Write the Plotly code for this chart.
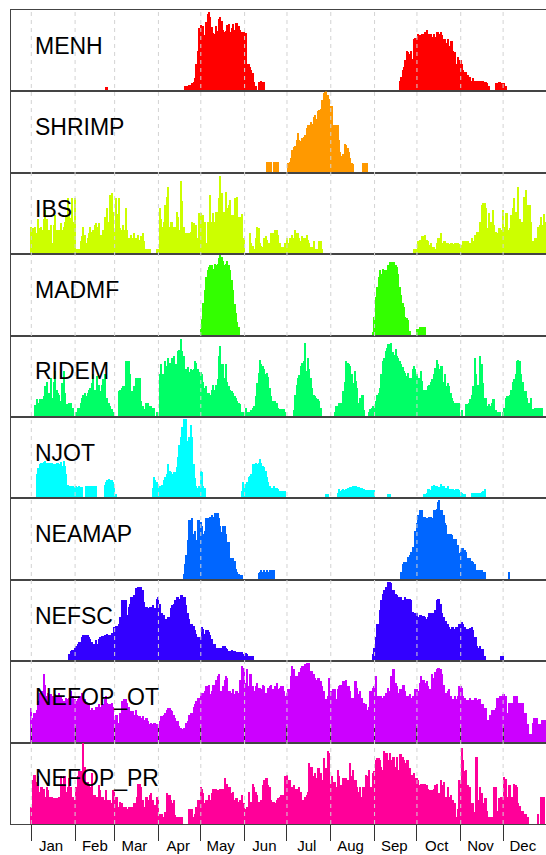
import plotly.graph_objects as go

# ---------------- data ----------------
names = ["MENH", "SHRIMP", "IBS", "MADMF", "RIDEM", "NJOT",
         "NEAMAP", "NEFSC", "NEFOP_OT", "NEFOP_PR"]
colors = ["#FF0000", "#FF9900", "#CCFF00", "#33FF00", "#00FF66",
          "#00FFFF", "#0066FF", "#3300FF", "#CC00FF", "#FF0099"]
month_labels = ["Jan", "Feb", "Mar", "Apr", "May", "Jun",
                "Jul", "Aug", "Sep", "Oct", "Nov", "Dec"]
month_start_days = [1, 32, 60, 91, 121, 152, 182, 213, 244, 274, 305, 335]
month_label_days = [15, 46, 74, 105, 135, 166, 196, 227, 258, 288, 319, 349]

# each series: list of (first day of year, daily relative counts 0-100)
menh = [
    (54, [5, 5]),
    (110, [7, 7, 7, 8, 8, 10, 11, 17, 34, 50, 78,
           81, 80, 80, 69, 85, 95, 97, 91, 79, 72, 71, 80, 74, 89, 91, 87, 76, 73, 74, 81,
           83, 73, 78, 83, 76, 84, 84, 80, 76, 73, 72, 73, 72,
           34, 34, 30, 26, 22, 12, 7, 0, 12, 12, 13, 12, 12]),
    (262, [13, 18, 26, 30, 38, 50, 48, 46, 50, 40, 64, 66, 66, 71, 69, 60, 71, 71, 73, 75,
           67, 71, 71, 67, 71, 67, 73, 73, 71, 73, 69, 64, 64, 60, 64, 56, 62, 62, 50, 48,
           34, 42, 38, 38, 34, 26, 24, 24, 20, 16, 18, 13, 16, 13, 13, 13, 13, 13, 13, 13,
           12, 11, 10, 7, 0, 0, 0, 0, 10, 10, 11, 11, 10, 10, 10, 7]),
]
shrimp = [
    (168, [13, 13, 13, 13, 0, 13, 13, 13, 13]),
    (183, [11, 13, 18, 27, 31, 32, 40, 48, 40, 38, 42, 44, 46, 54, 58, 58, 62, 60, 68, 70,
           66, 75, 77, 78, 89, 97, 99, 100, 95, 90, 81, 81, 58, 58, 58, 58, 40, 25, 20, 23,
           35, 34, 30, 25, 18, 12, 10]),
    (236, [12, 12, 12, 12]),
]
ibs = [
    (1, [34, 32, 30, 34, 26, 44, 32, 34, 30, 44, 55, 44, 24, 30, 36, 14, 36, 49, 30, 28,
         30, 38, 30, 34, 40, 49, 69, 57, 45, 69, 40, 69, 7, 7, 7, 16, 22, 34, 24, 14,
         20, 26, 34, 28, 30, 36, 38, 34, 38, 24, 24, 30, 46, 34, 57, 40, 73, 75, 52, 28,
         69, 50, 69, 32, 30, 36, 30, 57, 30, 20, 18, 24, 20, 26, 20, 16, 24, 18, 22, 26,
         16, 7, 7, 7, 7]),
    (90, [7, 7, 57, 44, 34, 40, 61, 71, 83, 34, 40, 40, 34, 34, 52, 46, 30, 90, 65, 34,
          26, 26, 26, 26, 28, 40, 38, 36, 36, 20, 51, 51, 49, 49, 40, 14, 40, 40, 73, 40,
          51, 40, 52, 52, 69, 96, 75, 52, 52, 77, 57, 61, 67, 48, 48, 69, 52, 71, 46, 46,
          50, 20, 20]),
    (156, [26, 14, 10, 7, 20, 34, 32, 14, 10, 9, 20, 22, 18, 14, 14, 26, 26, 24, 30, 30,
           24, 14, 9, 9, 9, 14, 20, 14, 20, 20, 24, 20, 30, 26, 26, 20, 16, 22, 20, 20,
           24, 18, 14, 9, 9, 16, 7, 7, 7, 16, 16, 7]),
    (272, [7, 7, 7, 16, 18, 14, 22, 22, 24, 18, 16, 12, 14, 9, 9, 7, 14, 20, 20, 26,
           14, 16, 16, 14, 14, 13, 14, 14, 13, 14, 14, 14, 13, 12, 12, 16, 16, 16, 16, 14,
           14, 20, 16, 24, 24, 28, 28, 40, 61, 63, 63, 57, 32, 51, 40, 40, 55, 36, 28, 26,
           32, 32, 30, 55, 34, 51, 51, 30, 32, 48, 57, 69, 52, 52, 83, 44, 40, 40, 71, 79,
           40, 61, 61, 40, 16, 7, 20, 20, 34, 36, 46, 36, 50, 40]),
]
madmf = [
    (121, [8, 20, 40, 56, 72, 80, 84, 86, 86, 82, 88, 86, 88, 95, 99, 96, 92, 86, 88, 92,
           86, 80, 68, 56, 39, 28, 16, 10]),
    (243, [4, 23, 47, 60, 72, 80, 76, 82, 80, 80, 80, 86, 90, 90, 90, 90, 86, 84, 76, 60,
           50, 40, 35, 23, 21, 19, 6]),
    (274, [8, 8, 10, 10, 10, 10, 10]),
]
ridem = [
    (4, [15, 22, 18, 22, 22, 22, 26, 38, 44, 30, 30, 49, 24, 44, 57, 34, 30, 28, 20, 42,
         57, 30, 16, 16, 18, 18, 12, 12]),
    (33, [7, 12, 12, 18, 24, 28, 30, 26, 30, 34, 36, 42, 53, 34, 34, 51, 40, 32, 40, 47,
          53, 24, 24, 18, 14, 10, 7]),
    (63, [32, 34, 36, 38, 38, 69, 69, 69, 53, 32, 32, 38, 49, 30, 49, 49, 20, 14, 10, 18,
          18, 18, 14, 14, 12, 12]),
    (90, [7, 7, 53, 65, 53, 53, 69, 63, 73, 67, 67, 73, 75, 65, 65, 81, 83, 96, 81, 75,
          60, 60, 62, 56, 60, 58, 60, 69, 67, 60, 56, 56, 53, 44, 36, 38, 30, 30, 28, 34,
          40, 34, 40, 47, 75, 88, 65, 65, 49, 65, 44, 38, 34, 32, 30, 26, 24, 20, 18, 16,
          7, 7, 7]),
    (153, [11, 7, 7, 7, 9, 12, 14, 26, 42, 55, 71, 65, 63, 59, 53, 55, 50, 36, 26, 20,
           20, 20, 18, 12, 10, 10, 10, 10, 7]),
    (187, [9, 28, 40, 48, 52, 63, 67, 69, 92, 57, 73, 60, 48, 36, 28, 26, 24, 22, 20, 12]),
    (216, [7, 14, 14, 18, 18, 18, 32, 44, 69, 67, 65, 63, 53, 42, 57, 45, 36, 18, 24, 28,
           28, 9]),
    (240, [7, 10, 12, 14, 12, 20, 28, 30, 36, 53, 69, 73, 81, 85, 90, 90, 92, 80, 77, 84,
           75, 73, 69, 65, 62, 57, 55, 51, 55, 49, 49, 59, 63, 60, 53, 49, 49, 57, 45, 34,
           34, 34, 38, 40, 44, 47, 53, 61, 71, 65, 59, 63, 63, 44, 53, 38, 42, 38, 30, 24,
           20, 18, 18, 18, 18]),
    (306, [9]),
    (309, [16, 16, 18, 22, 28, 38, 73, 53, 40, 40, 75, 65, 42, 24, 24, 14, 16, 14, 18, 22,
           22, 9, 7, 7, 7]),
    (335, [7, 11, 24, 26, 26, 28, 34, 44, 47, 53, 69, 71, 69, 53, 44, 32, 32, 24, 18, 18,
           24, 10]),
    (358, [12, 12, 12, 12, 12, 12]),
]
njot = [
    (5, [30, 37, 42, 44, 44, 45, 46, 44, 42, 44, 43, 44, 42, 42, 43, 44, 42, 45, 40, 46,
         40, 30, 17, 15, 15, 15, 15, 14, 15, 14, 15, 14, 14]),
    (40, [15, 15, 15, 15, 15, 15, 15, 15]),
    (53, [17, 20, 22, 24, 22, 22, 20, 13, 5]),
    (87, [13, 26, 22, 20, 18, 15, 13, 17, 22, 26, 30, 42, 34, 32, 30, 32, 32, 38, 51, 65,
          76, 88, 98, 84, 97, 71, 75, 90, 76, 42, 25, 15, 13, 15, 34, 32, 15, 13]),
    (150, [9, 20, 13, 18, 20, 26, 28, 30, 42, 42, 44, 42, 44, 49, 44, 40, 38, 34, 26, 20,
           15, 13, 13, 15, 13, 13, 12, 9, 9, 9, 9, 9]),
    (210, [6, 6]),
    (218, [7, 11, 9, 10, 11, 10, 11, 13, 13, 14, 14, 15, 15, 15, 14, 14, 13, 13, 11, 11,
           10, 10, 10, 10, 10, 10, 10]),
    (254, [5, 5]),
    (279, [5, 6, 7, 11, 11, 10, 15, 17, 15, 15, 13, 14, 18, 15, 15, 13, 13, 15, 12, 12,
           10, 11, 10, 12, 12, 10, 8, 7, 6, 6]),
    (313, [7, 7, 7, 7, 7, 7, 7, 8, 9, 11]),
]
neamap = [
    (109, [7, 19, 30, 48, 73, 73, 75, 56, 60, 48, 73, 73, 71, 65, 56, 60, 75, 75, 69, 77,
           79, 77, 81, 81, 82, 75, 65, 58, 65, 65, 56, 46, 46, 26, 26, 26, 23, 13, 9, 7,
           6, 6]),
    (162, [8, 9, 11, 9, 11, 9, 11, 9, 11, 11, 11, 11]),
    (263, [9, 19, 21, 21, 21, 28, 30, 34, 40, 40, 60, 69, 79, 85, 85, 85, 77, 77, 75, 75,
           77, 77, 75, 85, 85, 87, 95, 98, 85, 85, 79, 69, 67, 56, 56, 56, 54, 50, 50, 50,
           42, 32, 36, 38, 38, 36, 34, 26, 26, 26, 23, 21, 19, 11, 11, 11, 11, 11, 9, 9]),
    (339, [9]),
]
nefsc = [
    (28, [9, 13, 14, 14, 17, 19, 21, 24, 24, 30,
          32, 33, 32, 32, 30, 28, 24, 21, 21, 26, 21, 28,
          30, 31, 31, 32, 33, 34, 33, 33, 35, 34, 42, 44, 44,
          46, 55, 75, 69, 75, 75, 57, 67, 71, 79, 79, 81,
          90, 90, 92, 92, 92, 88, 73, 67, 67, 65, 67, 67,
          69, 65, 65, 77, 79, 71, 59, 59, 57, 52, 52, 55, 55,
          65, 69, 71, 75, 79, 79, 77, 81, 81, 79, 79, 69,
          59, 52, 46, 46, 44, 38, 34, 30, 30, 30, 42, 40,
          34, 38, 38, 36, 32, 28, 21, 21, 17, 17, 17, 17, 17,
          19, 19, 17, 15, 13, 13, 14, 13, 13, 11, 11, 11,
          11, 11, 9, 9, 10, 9, 7, 7, 7, 7]),
    (243, [9, 17, 30, 46, 46,
           63, 75, 83, 88, 92, 92, 98, 98, 96, 88, 88, 83,
           81, 79, 79, 79, 75, 71, 79, 77, 77, 77, 75, 61,
           57, 59, 59, 55, 57, 57, 56, 56, 55, 52, 55, 59, 59,
           59, 59, 63, 75, 77, 77, 71, 59, 55, 50, 50, 46,
           42, 40, 42, 42, 40, 42, 42, 46, 46, 48, 46, 42,
           40, 40, 40, 41, 42, 38, 30, 30, 19, 17, 19, 15, 15, 7]),
    (334, [7, 7]),
]
nefop_ot = [
    (1, [42, 30, 36, 36, 40, 51, 61, 63, 63, 84, 71, 57,
         61, 59, 59, 57, 57, 59, 57, 57, 61, 57, 53, 51, 51,
         55, 53, 55, 63, 57, 57, 53, 51, 53, 57, 57, 61,
         57, 53, 49, 49, 49, 40, 42, 40, 40, 44, 44, 47,
         44, 47, 47, 53, 57, 49, 47, 47, 49, 44, 28, 34, 34,
         24, 36, 51, 40, 53, 53, 49, 44, 36, 38, 38, 34,
         40, 34, 32, 32, 30, 32, 28, 30, 30, 26, 22, 24,
         22, 24, 24, 22, 22, 26, 32, 32, 34, 36, 40, 42, 42,
         40, 38, 34, 30, 26, 26, 20, 18, 16, 18, 18, 24,
         26, 34, 36, 36, 44, 47, 51, 55, 55, 61, 59, 61,
         63, 69, 69, 71, 59, 63, 71, 71, 77, 81, 84, 63, 63,
         69, 77, 81, 79, 63, 63, 61, 65, 59, 63, 63, 61,
         77, 94, 92, 92, 73, 90, 69, 84, 84, 69, 63, 69,
         73, 67, 67, 65, 71, 69, 61, 61, 67, 69, 71, 65, 65,
         69, 73, 65, 67, 69, 69, 63, 57, 61, 65, 65, 81,
         94, 90, 81, 81, 79, 86, 92, 94, 94, 96, 97, 98,
         98, 88, 88, 84, 79, 77, 79, 79, 75, 69, 63, 53, 53,
         57, 79, 63, 63, 65, 65, 53, 65, 69, 71, 71, 75,
         75, 77, 69, 69, 63, 55, 55, 75, 75, 67, 59, 63,
         55, 49, 49, 47, 40, 44, 63, 63, 67, 69, 81, 57, 57,
         53, 57, 55, 57, 61, 61, 67, 63, 81, 90, 90, 73,
         69, 61, 65, 65, 71, 71, 63, 57, 57, 59, 55, 57,
         57, 65, 65, 63, 73, 81, 77, 77, 73, 75, 69, 65, 65,
         84, 79, 86, 90, 92, 92, 90, 84, 71, 61, 61, 63,
         65, 57, 53, 53, 57, 53, 57, 69, 69, 67, 57, 55,
         52, 52, 52, 55, 52, 52, 55, 55, 52, 53, 53, 47, 47,
         42, 42, 28, 28, 34, 40, 40, 40, 42, 55, 55, 57,
         57, 59, 59, 57, 36, 48, 48, 48, 48, 57, 57, 57,
         48, 48, 48, 48, 36, 36, 22, 22, 10, 10, 24, 30, 30,
         30, 22, 22, 8, 28, 28, 28]),
]
nefop_pr = [
    (1, [21, 55, 61, 61, 52, 59, 40, 46, 46, 44, 34, 46,
         42, 34, 34, 34, 32, 32, 32, 32, 34, 59, 50, 59, 59,
         40, 46, 57, 46, 34, 34, 30, 46, 59, 65, 65, 50,
         100, 71, 52, 52, 50, 46, 63, 36, 36, 30, 34, 48,
         42, 34, 34, 30, 42, 30, 30, 30, 26, 42, 40, 34, 34,
         21, 28, 26, 21, 21, 21, 19, 21, 21, 21, 21, 26,
         26, 34, 50, 50, 46, 30, 21, 34, 34, 30, 36, 38,
         30, 24, 24, 34, 30, 13, 13, 13, 9, 15, 38, 36, 36,
         30, 26, 30, 11, 9, 9, 9, 9, 9, 0, 0, 0,
         0, 19, 19, 19, 9, 13, 21, 30, 30, 46, 44, 38,
         26, 30, 30, 36, 30, 38, 44, 44, 44, 42, 42, 44, 44,
         44, 57, 48, 50, 46, 46, 38, 40, 30, 32, 32, 28,
         30, 36, 26, 26, 19, 21, 40, 28, 28, 50, 46, 40,
         36, 28, 28, 30, 48, 55, 57, 57, 48, 46, 30, 28, 28,
         26, 30, 32, 34, 36, 36, 34, 59, 61, 55, 55, 42,
         46, 48, 44, 44, 42, 46, 40, 30, 30, 34, 36, 40,
         75, 71, 71, 59, 63, 57, 69, 69, 63, 55, 81, 69, 69,
         90, 88, 50, 59, 52, 52, 46, 67, 59, 48, 48, 57,
         57, 57, 55, 55, 75, 59, 67, 55, 55, 46, 40, 46,
         34, 46, 46, 61, 59, 67, 46, 46, 63, 65, 79, 81, 81,
         79, 71, 67, 90, 88, 88, 79, 88, 79, 83, 83, 71,
         83, 67, 86, 86, 83, 79, 75, 79, 79, 69, 61, 61,
         63, 57, 57, 55, 48, 50, 50, 50, 50, 48, 44, 42, 42,
         42, 44, 48, 50, 38, 38, 55, 48, 52, 34, 34, 46,
         34, 36, 30, 30, 26, 9, 19, 55, 55, 94, 79, 65,
         67, 48, 40, 46, 26, 26, 15, 83, 83, 30, 46, 38, 26,
         32, 32, 17, 9, 9, 9, 9, 46, 46, 17, 32, 30,
         34, 34, 58, 56, 34, 48, 48, 34, 34, 50, 48, 46,
         26, 22, 17, 17, 13, 13, 9, 9, 0, 0, 0, 0, 0,
         0, 13, 0, 34, 34, 34, 0]),
]
series = [menh, shrimp, ibs, madmf, ridem, njot, neamap, nefsc, nefop_ot, nefop_pr]

# ---------------- figure ----------------
W, H = 546, 855
ML, MR, MT, MB = 11, 0, 10, 31
PX_PER_DAY = 1.4126
X_DAY1_PX = 31.3
x_lo = 1 - (X_DAY1_PX - ML) / PX_PER_DAY
x_hi = 1 + (W - MR - X_DAY1_PX) / PX_PER_DAY

FONT = "Liberation Sans, Arial, Helvetica, sans-serif"
BORDER = "#444444"

fig = go.Figure()
n = len(names)
layout_axes = {}
annotations = []
for i, (name, color, segs) in enumerate(zip(names, colors, series)):
    vals = [0] * 365
    for start, seg in segs:
        for j, v in enumerate(seg):
            d = start + j
            if 1 <= d <= 365:
                vals[d - 1] = v
    days = [d for d in range(1, 366) if vals[d - 1] > 0]
    ys = [vals[d - 1] for d in days]
    yname = "y" if i == 0 else f"y{i + 1}"
    fig.add_trace(go.Bar(
        x=days, y=ys, width=1, xaxis="x", yaxis=yname,
        marker=dict(color=color, line=dict(width=0)),
        hoverinfo="skip", showlegend=False, name=name,
    ))
    top = 1 - i / n
    bot = 1 - (i + 1) / n
    key = "yaxis" if i == 0 else f"yaxis{i + 1}"
    layout_axes[key] = dict(
        domain=[bot, top], anchor="x", range=[0, 100],
        showline=True, linecolor=BORDER, linewidth=1,
        showticklabels=False, ticks="", showgrid=False, zeroline=False,
        fixedrange=True, automargin=False,
    )
    annotations.append(dict(
        text=name, xref="paper", x=(33 - ML) / (W - ML - MR),
        yref=f"{yname} domain", y=0.56, xanchor="left", yanchor="middle",
        showarrow=False, font=dict(family=FONT, size=23, color="black"),
    ))

shapes = []
for d in month_start_days:
    shapes.append(dict(
        type="line", xref="x", x0=d, x1=d, yref="paper", y0=0, y1=1,
        line=dict(color="#D3D3D3", width=1, dash="4px,4px"), layer="above",
    ))

fig.update_layout(
    width=W, height=H, autosize=False,
    margin=dict(l=ML, r=MR, t=MT, b=MB, pad=0, autoexpand=False),
    paper_bgcolor="white", plot_bgcolor="white",
    font=dict(family=FONT, color="black"),
    bargap=0,
    xaxis=dict(
        range=[x_lo, x_hi], anchor="y10", automargin=False,
        showline=True, linecolor=BORDER, linewidth=1, mirror="all",
        tickmode="array", tickvals=month_label_days, ticktext=month_labels,
        ticks="outside", ticklen=8, tickcolor="rgba(0,0,0,0)",
        tickfont=dict(family=FONT, size=15, color="black"),
        showgrid=False, zeroline=False, fixedrange=True,
        minor=dict(tickmode="array", tickvals=month_start_days, ticks="outside",
                   ticklen=16, tickwidth=1, tickcolor="#333333", showgrid=False),
    ),
    shapes=shapes,
    annotations=annotations,
    **layout_axes,
)

fig.write_html("out.html", config={"displayModeBar": False})
